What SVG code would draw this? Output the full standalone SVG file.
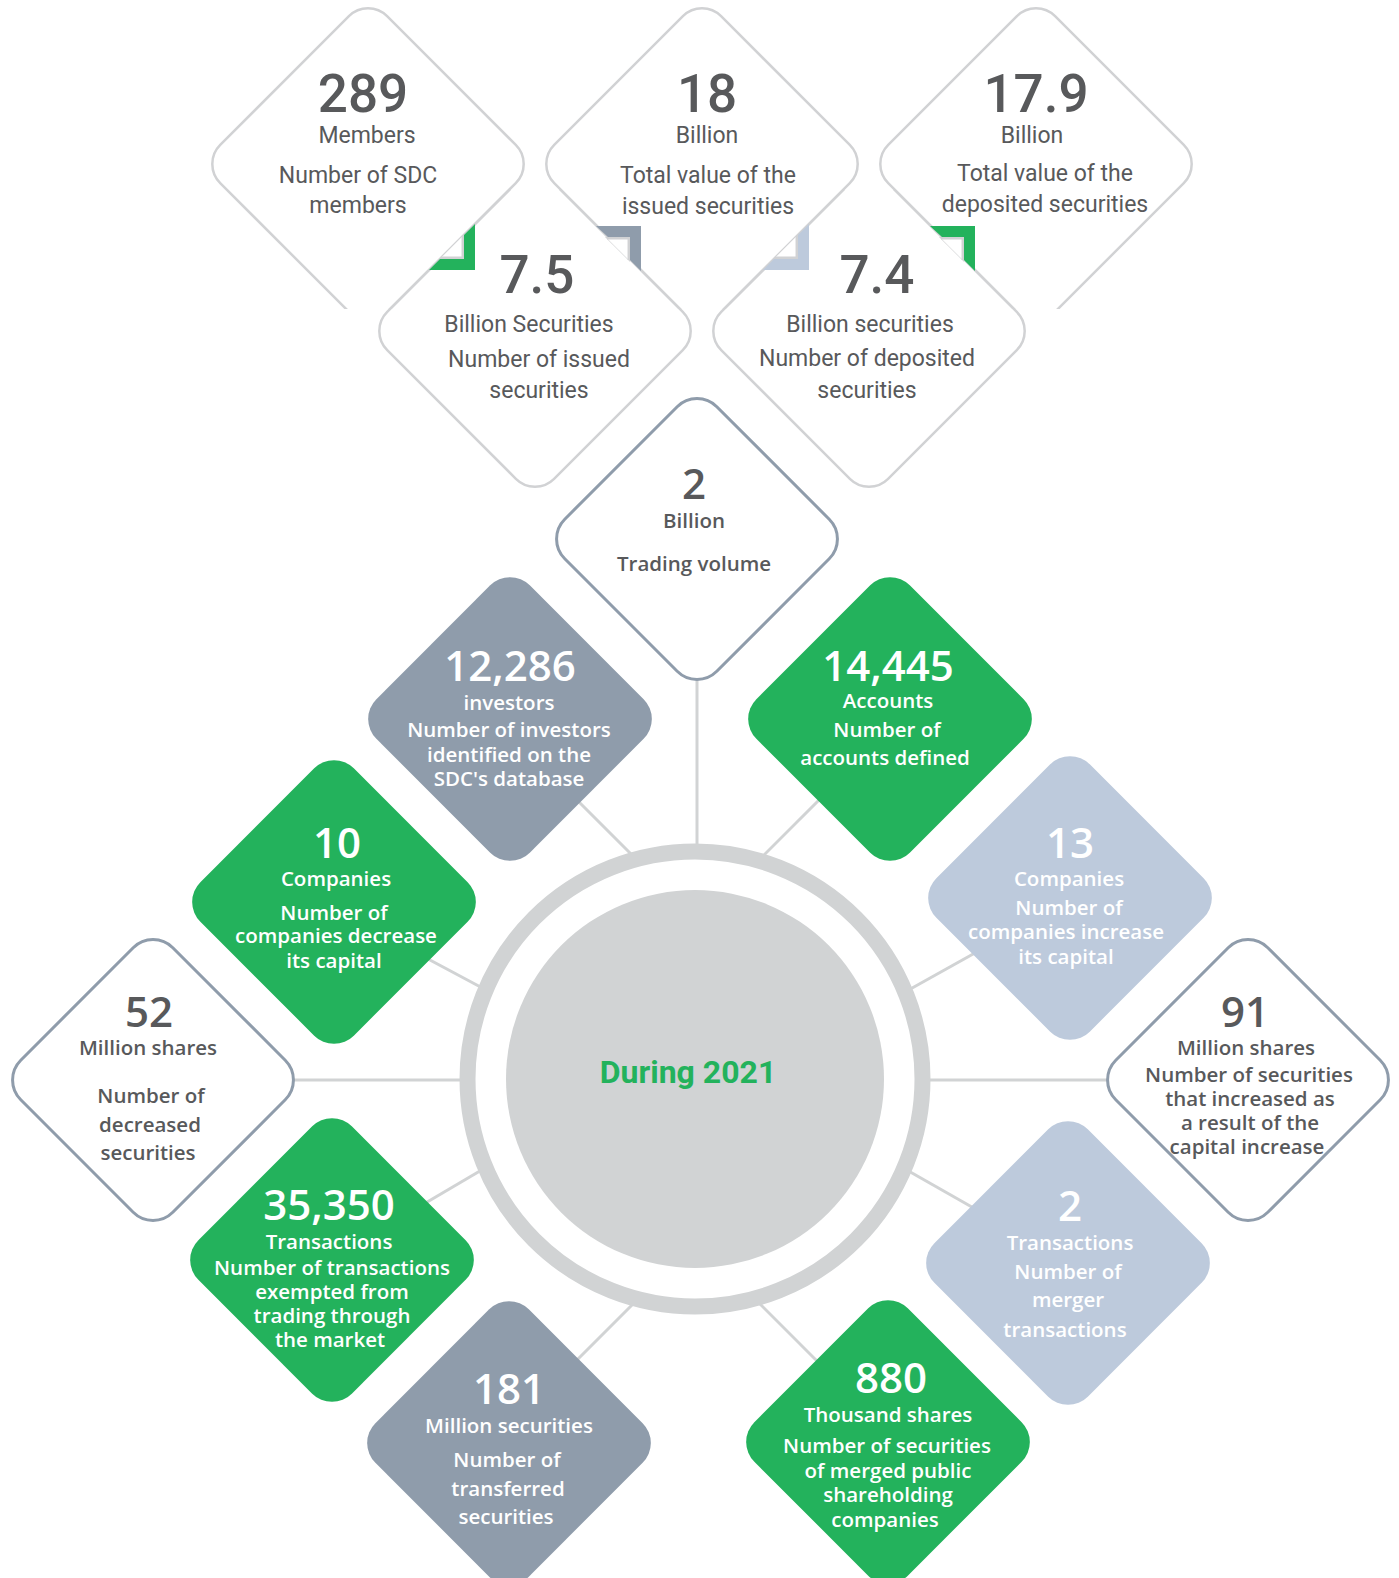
<svg xmlns="http://www.w3.org/2000/svg" width="1399" height="1578" viewBox="0 0 1399 1578">
<defs>
<style>
.tw{fill:#fff;stroke:#d1d2d4;stroke-width:2.5}
.top{font-family:Roboto,"Liberation Sans",sans-serif;fill:#58595b;text-anchor:middle}
.tn{font-size:53px;font-weight:500}
.tl{font-size:23px;font-weight:400}
.lo{font-family:"Open Sans","Noto Sans",sans-serif;text-anchor:middle}
.num{font-size:42px;font-weight:600}
.numb{font-size:42px;font-weight:600}
.lab{font-size:20.5px;font-weight:600}
.wt{fill:#fff}
.dk{fill:#58595b}
.green{fill:#23b25c}
.gray{fill:#8f9cab}
.lblue{fill:#bdcadc}
.outl{fill:#fff;stroke:#8f9cab;stroke-width:3}
.con{stroke:#d1d3d4;stroke-width:3;fill:none}
.step{fill:#fff;stroke:#d1d2d4;stroke-width:2.5}
</style>
<clipPath id="clipRow1"><rect x="0" y="0" width="1399" height="309"/></clipPath>
<clipPath id="clipRow2"><rect x="0" y="190" width="1399" height="400"/></clipPath>
</defs>
<rect width="1399" height="1578" fill="#fff"/>

<!-- connectors -->
<g id="connectors">
<line class="con" x1="697" y1="640" x2="697" y2="852"/>
<line class="con" x1="200" y1="1080" x2="466" y2="1080"/>
<line class="con" x1="924" y1="1080" x2="1200" y2="1080"/>
<line class="con" x1="560" y1="783" x2="634" y2="857"/>
<line class="con" x1="830" y1="789" x2="760" y2="859"/>
<line class="con" x1="400" y1="944" x2="488" y2="991"/>
<line class="con" x1="1000" y1="939" x2="905" y2="992"/>
<line class="con" x1="400" y1="1218" x2="485" y2="1168"/>
<line class="con" x1="1000" y1="1223" x2="905" y2="1169"/>
<line class="con" x1="555" y1="1382" x2="636" y2="1301"/>
<line class="con" x1="840" y1="1384" x2="755" y2="1299"/>
</g>

<!-- center -->
<g id="center">
<circle cx="695" cy="1079" r="227.5" fill="#fff" stroke="#d1d3d4" stroke-width="16"/>
<circle cx="695" cy="1079" r="189" fill="#d1d3d4"/>
<text x="688" y="1083" font-family="Roboto, 'Liberation Sans', sans-serif" font-size="32" font-weight="700" fill="#23b25c" text-anchor="middle">During 2021</text>
</g>

<!-- top cluster -->
<g id="n-issued-count" clip-path="url(#clipRow2)">
<rect class="tw" x="-118" y="-118" width="236" height="236" rx="27" transform="translate(535 331) rotate(45)"/>
</g>
<g id="n-deposited-count" clip-path="url(#clipRow2)">
<rect class="tw" x="-118" y="-118" width="236" height="236" rx="27" transform="translate(869 331) rotate(45)"/>
</g>
<g id="n-members" clip-path="url(#clipRow1)">
<rect class="tw" x="-118" y="-118" width="236" height="236" rx="27" transform="translate(368 164) rotate(45)"/>
</g>
<g id="n-issued-value" clip-path="url(#clipRow1)">
<rect class="tw" x="-118" y="-118" width="236" height="236" rx="27" transform="translate(702 164) rotate(45)"/>
</g>
<g id="n-deposited-value" clip-path="url(#clipRow1)">
<rect class="tw" x="-118" y="-118" width="236" height="236" rx="27" transform="translate(1036 164) rotate(45)"/>
</g>

<!-- accents -->
<g id="accents">
<polygon class="step" points="462.8,237.2 462.8,257.8 442.2,257.8" stroke="none"/>
<polyline class="step" fill="none" points="462.8,236 462.8,257.8 441,257.8"/>
<polygon fill="#23b25c" points="464,235 475,224 475,270 429,270 440,259 464,259"/>

<polygon class="step" points="608,238.2 628.8,238.2 628.8,259" stroke="none"/>
<polyline class="step" fill="none" points="607,238.2 628.8,238.2 628.8,260"/>
<polygon fill="#8f9cab" points="596,226 641,226 641,271 630,260 630,237 608,237"/>

<polygon class="step" points="796.8,237.2 796.8,257.8 776.2,257.8" stroke="none"/>
<polyline class="step" fill="none" points="796.8,236 796.8,257.8 775,257.8"/>
<polygon fill="#bdcadc" points="798,235 809,224 809,270 763,270 774,259 798,259"/>

<polygon class="step" points="942,238.2 962.8,238.2 962.8,259" stroke="none"/>
<polyline class="step" fill="none" points="941,238.2 962.8,238.2 962.8,260"/>
<polygon fill="#23b25c" points="930,226 975,226 975,271 964,260 964,237 942,237"/>
</g>

<!-- top texts -->
<g id="t-members" class="top">
<text class="tn" x="363" y="112">289</text>
<text class="tl" x="367" y="143">Members</text>
<text class="tl" x="358" y="183">Number of SDC</text>
<text class="tl" x="358" y="213">members</text>
</g>
<g id="t-issued-value" class="top">
<text class="tn" x="707" y="112">18</text>
<text class="tl" x="707" y="143">Billion</text>
<text class="tl" x="708" y="183">Total value of the</text>
<text class="tl" x="708" y="214">issued securities</text>
</g>
<g id="t-deposited-value" class="top">
<text class="tn" x="1036" y="112">17.9</text>
<text class="tl" x="1032" y="143">Billion</text>
<text class="tl" x="1045" y="181">Total value of the</text>
<text class="tl" x="1045" y="212">deposited securities</text>
</g>
<g id="t-issued-count" class="top">
<text class="tn" x="537" y="293">7.5</text>
<text class="tl" x="529" y="332">Billion Securities</text>
<text class="tl" x="539" y="367">Number of issued</text>
<text class="tl" x="539" y="398">securities</text>
</g>
<g id="t-deposited-count" class="top">
<text class="tn" x="877" y="293">7.4</text>
<text class="tl" x="870" y="332">Billion securities</text>
<text class="tl" x="867" y="366">Number of deposited</text>
<text class="tl" x="867" y="398">securities</text>
</g>

<!-- trading volume -->
<g id="n-trading" class="lo">
<rect class="outl" x="-107.5" y="-107.5" width="215" height="215" rx="28" transform="translate(697 539) rotate(45)"/>
<text class="numb dk" x="694" y="499">2</text>
<text class="lab dk" x="694" y="528">Billion</text>
<text class="lab dk" x="694" y="571">Trading volume</text>
</g>

<g id="n-investors" class="lo">
<rect class="gray" x="-108.5" y="-108.5" width="217" height="217" rx="28" transform="translate(510 719) rotate(45)"/>
<text class="num wt" x="510" y="681">12,286</text>
<text class="lab wt" x="509" y="710">investors</text>
<text class="lab wt" x="509" y="737">Number of investors</text>
<text class="lab wt" x="509" y="762">identified on the</text>
<text class="lab wt" x="509" y="786">SDC's database</text>
</g>

<g id="n-accounts" class="lo">
<rect class="green" x="-108.5" y="-108.5" width="217" height="217" rx="28" transform="translate(890 719) rotate(45)"/>
<text class="num wt" x="888" y="681">14,445</text>
<text class="lab wt" x="888" y="708">Accounts</text>
<text class="lab wt" x="887" y="737">Number of</text>
<text class="lab wt" x="885" y="765">accounts defined</text>
</g>

<g id="n-decrease" class="lo">
<rect class="green" x="-108.5" y="-108.5" width="217" height="217" rx="28" transform="translate(334 902) rotate(45)"/>
<text class="num wt" x="337" y="858">10</text>
<text class="lab wt" x="336" y="886">Companies</text>
<text class="lab wt" x="334" y="920">Number of</text>
<text class="lab wt" x="336" y="943">companies decrease</text>
<text class="lab wt" x="334" y="968">its capital</text>
</g>

<g id="n-increase" class="lo">
<rect class="lblue" x="-108.5" y="-108.5" width="217" height="217" rx="28" transform="translate(1070 898) rotate(45)"/>
<text class="num wt" x="1070" y="858">13</text>
<text class="lab wt" x="1069" y="886">Companies</text>
<text class="lab wt" x="1069" y="915">Number of</text>
<text class="lab wt" x="1066" y="939">companies increase</text>
<text class="lab wt" x="1066" y="964">its capital</text>
</g>

<g id="n-decreased-sec" class="lo">
<rect class="outl" x="-107.5" y="-107.5" width="215" height="215" rx="28" transform="translate(153 1080) rotate(45)"/>
<text class="numb dk" x="149" y="1027" font-weight="700">52</text>
<text class="lab dk" x="148" y="1055">Million shares</text>
<text class="lab dk" x="151" y="1103">Number of</text>
<text class="lab dk" x="150" y="1132">decreased</text>
<text class="lab dk" x="148" y="1160">securities</text>
</g>

<g id="n-increased-sec" class="lo">
<rect class="outl" x="-107.5" y="-107.5" width="215" height="215" rx="28" transform="translate(1248 1080) rotate(45)"/>
<text class="numb dk" x="1245" y="1027" font-weight="700">91</text>
<text class="lab dk" x="1246" y="1055">Million shares</text>
<text class="lab dk" x="1249" y="1082">Number of securities</text>
<text class="lab dk" x="1250" y="1106">that increased as</text>
<text class="lab dk" x="1250" y="1130">a result of the</text>
<text class="lab dk" x="1247" y="1154">capital increase</text>
</g>

<g id="n-exempted" class="lo">
<rect class="green" x="-108.5" y="-108.5" width="217" height="217" rx="28" transform="translate(332 1260) rotate(45)"/>
<text class="numb wt" x="329" y="1220">35,350</text>
<text class="lab wt" x="329" y="1249">Transactions</text>
<text class="lab wt" x="332" y="1275">Number of transactions</text>
<text class="lab wt" x="332" y="1299">exempted from</text>
<text class="lab wt" x="332" y="1323">trading through</text>
<text class="lab wt" x="330" y="1347">the market</text>
</g>

<g id="n-merger" class="lo">
<rect class="lblue" x="-108.5" y="-108.5" width="217" height="217" rx="28" transform="translate(1068 1263) rotate(45)"/>
<text class="numb wt" x="1070" y="1221">2</text>
<text class="lab wt" x="1070" y="1250">Transactions</text>
<text class="lab wt" x="1068" y="1279">Number of</text>
<text class="lab wt" x="1068" y="1307">merger</text>
<text class="lab wt" x="1065" y="1337">transactions</text>
</g>

<g id="n-transferred" class="lo">
<rect class="gray" x="-108.5" y="-108.5" width="217" height="217" rx="28" transform="translate(509 1443) rotate(45)"/>
<text class="numb wt" x="509" y="1404">181</text>
<text class="lab wt" x="509" y="1433">Million securities</text>
<text class="lab wt" x="507" y="1467">Number of</text>
<text class="lab wt" x="508" y="1496">transferred</text>
<text class="lab wt" x="506" y="1524">securities</text>
</g>

<g id="n-merged-sec" class="lo">
<rect class="green" x="-108.5" y="-108.5" width="217" height="217" rx="28" transform="translate(888 1442) rotate(45)"/>
<text class="numb wt" x="891" y="1393">880</text>
<text class="lab wt" x="888" y="1422">Thousand shares</text>
<text class="lab wt" x="887" y="1453">Number of securities</text>
<text class="lab wt" x="888" y="1478">of merged public</text>
<text class="lab wt" x="888" y="1502">shareholding</text>
<text class="lab wt" x="885" y="1527">companies</text>
</g>
</svg>
